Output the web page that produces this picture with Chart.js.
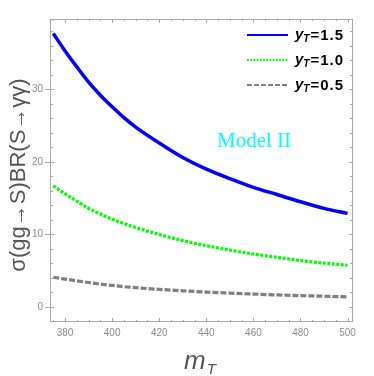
<!DOCTYPE html>
<html>
<head>
<meta charset="utf-8">
<script src="https://cdn.jsdelivr.net/npm/chart.js@4"></script>
<style>
  html, body { margin: 0; padding: 0; background: #fff; }
  #wrap { width: 374px; height: 376px; }
</style>
</head>
<body>
<div id="wrap"><canvas id="myChart" width="374" height="376"></canvas></div>
<script>
// values
const mT = [375, 380, 385, 390, 395, 400, 405, 410, 420, 430, 440, 450, 460, 470, 480, 490, 500];
const yT15 = [37.7, 35.3, 33.1, 31.0, 29.2, 27.6, 26.1, 24.8, 22.6, 20.6, 19.0, 17.7, 16.5, 15.5, 14.5, 13.6, 12.9];
const yT10 = [16.7, 15.6, 14.6, 13.6, 12.8, 12.1, 11.5, 10.95, 10.0, 9.15, 8.45, 7.85, 7.3, 6.85, 6.4, 6.05, 5.75];
const yT05 = [4.1, 3.85, 3.6, 3.37, 3.15, 2.97, 2.8, 2.66, 2.43, 2.23, 2.06, 1.91, 1.78, 1.67, 1.57, 1.48, 1.39];

const xTicks = [380, 400, 420, 440, 460, 480, 500];
const yTicks = [0, 10, 20, 30];
const legendLabels = ['1.5', '1.0', '0.5'];

const frameColor = '#ababab';
const labelColor = '#8c8c8c';

function toPoints(ys) {
    return mT.map((m, i) => ({ x: m, y: ys[i] }));
}

// frame with ticks, legend, titles and the "Model II" note
const decorations = {
    id: 'decorations',
    afterDraw(chart) {
        const ctx = chart.ctx;
        const a = chart.chartArea;
        const sx = chart.scales.x, sy = chart.scales.y;
        ctx.save();

        // frame
        ctx.strokeStyle = frameColor;
        ctx.lineWidth = 1;
        ctx.strokeRect(a.left + 0.5, a.top + 0.5, a.right - a.left - 1, a.bottom - a.top - 1);

        // x ticks (every 5, major every 20)
        for (let v = 375; v <= 500; v += 5) {
            const px = Math.round(sx.getPixelForValue(v)) + 0.5;
            const len = (v % 20 === 0) ? 4 : 2;
            ctx.beginPath();
            ctx.moveTo(px, a.bottom); ctx.lineTo(px, a.bottom - len);
            ctx.moveTo(px, a.top); ctx.lineTo(px, a.top + len);
            ctx.stroke();
        }
        // y ticks (every 2, major every 10 reaching outside on the left)
        for (let v = -2; v <= 38; v += 2) {
            const py = Math.round(sy.getPixelForValue(v)) + 0.5;
            const major = v % 10 === 0;
            const len = major ? 4 : 3;
            ctx.beginPath();
            ctx.moveTo(major ? a.left - 5 : a.left, py); ctx.lineTo(a.left + len, py);
            ctx.moveTo(a.right, py); ctx.lineTo(a.right - len, py);
            ctx.stroke();
        }

        // legend
        const ds = chart.data.datasets;
        const rows = [35, 60, 85];
        const legendDash = [[], [2, 1.2], [5, 2]];
        ds.forEach((d, i) => {
            ctx.save();
            ctx.strokeStyle = d.borderColor;
            ctx.lineWidth = 2;
            ctx.setLineDash(legendDash[i]);
            ctx.beginPath();
            ctx.moveTo(247, rows[i]); ctx.lineTo(288, rows[i]);
            ctx.stroke();
            ctx.restore();

            ctx.fillStyle = '#000';
            ctx.textBaseline = 'alphabetic';
            ctx.textAlign = 'left';
            ctx.font = 'italic bold 15px "Liberation Sans", Arial, sans-serif';
            let x = 295;
            ctx.fillText('y', x, rows[i] + 4);
            x += ctx.measureText('y').width;
            ctx.font = 'italic bold 10px "Liberation Sans", Arial, sans-serif';
            ctx.fillText('T', x, rows[i] + 7);
            x += ctx.measureText('T').width + 1;
            ctx.font = 'bold 15px "Liberation Sans", Arial, sans-serif';
            ctx.letterSpacing = '1px';
            ctx.fillText('=' + legendLabels[i], x, rows[i] + 5);
            ctx.letterSpacing = '0px';
        });

        // Model II
        ctx.fillStyle = '#00ffff';
        ctx.font = '21px "Liberation Serif", "Times New Roman", serif';
        ctx.textAlign = 'left';
        ctx.textBaseline = 'alphabetic';
        ctx.fillText('Model II', 217, 147);

        // y title
        ctx.save();
        ctx.translate(25, 175);
        ctx.rotate(-Math.PI / 2);
        ctx.fillStyle = '#555';
        ctx.font = '22px "Liberation Sans", Arial, sans-serif';
        ctx.textAlign = 'center';
        ctx.textBaseline = 'alphabetic';
        ctx.fillText('σ(gg→S)BR(S→γγ)', 0, 0);
        ctx.restore();

        // x title
        ctx.fillStyle = '#555';
        ctx.textAlign = 'left';
        ctx.font = 'italic 26px "Liberation Sans", Arial, sans-serif';
        ctx.fillText('m', 184, 369);
        const mw = ctx.measureText('m').width;
        ctx.font = 'italic 15px "Liberation Sans", Arial, sans-serif';
        ctx.fillText('T', 184 + mw + 1, 374);

        ctx.restore();
    }
};

const config = {
    type: 'line',
    data: {
        datasets: [
            {
                label: 'yT=1.5',
                data: toPoints(yT15),
                borderColor: '#0000ff',
                borderWidth: 3.5
            },
            {
                label: 'yT=1.0',
                data: toPoints(yT10),
                borderColor: '#00ff00',
                borderWidth: 3.2,
                borderDash: [3, 1.5]
            },
            {
                label: 'yT=0.5',
                data: toPoints(yT05),
                borderColor: '#808080',
                borderWidth: 3.2,
                borderDash: [6, 2]
            }
        ]
    },
    options: {
        responsive: false,
        animation: false,
        cubicInterpolationMode: 'monotone',
        elements: { point: { radius: 0 } },
        layout: { padding: { top: 19, right: 21, left: 0, bottom: 0 } },
        plugins: {
            legend: { display: false },
            tooltip: { enabled: false }
        },
        scales: {
            x: {
                type: 'linear',
                min: 373.6,
                max: 502.3,
                grid: { display: false, drawTicks: false },
                border: { display: false },
                afterBuildTicks: (axis) => { axis.ticks = xTicks.map(v => ({ value: v })); },
                afterFit: (axis) => { axis.height = 54; },
                ticks: {
                    color: labelColor,
                    font: { size: 10, family: '"Liberation Sans", Arial, sans-serif' },
                    padding: 5,
                    maxRotation: 0,
                    autoSkip: false
                }
            },
            y: {
                type: 'linear',
                min: -2.07,
                max: 39.7,
                grid: { display: false, drawTicks: false },
                border: { display: false },
                afterBuildTicks: (axis) => { axis.ticks = yTicks.map(v => ({ value: v })); },
                afterFit: (axis) => { axis.width = 50; },
                ticks: {
                    color: labelColor,
                    font: { size: 10, family: '"Liberation Sans", Arial, sans-serif' },
                    padding: 7
                }
            }
        }
    },
    plugins: [decorations]
};

const ctx = document.querySelector('#myChart').getContext('2d');
new Chart(ctx, config);
</script>
</body>
</html>
